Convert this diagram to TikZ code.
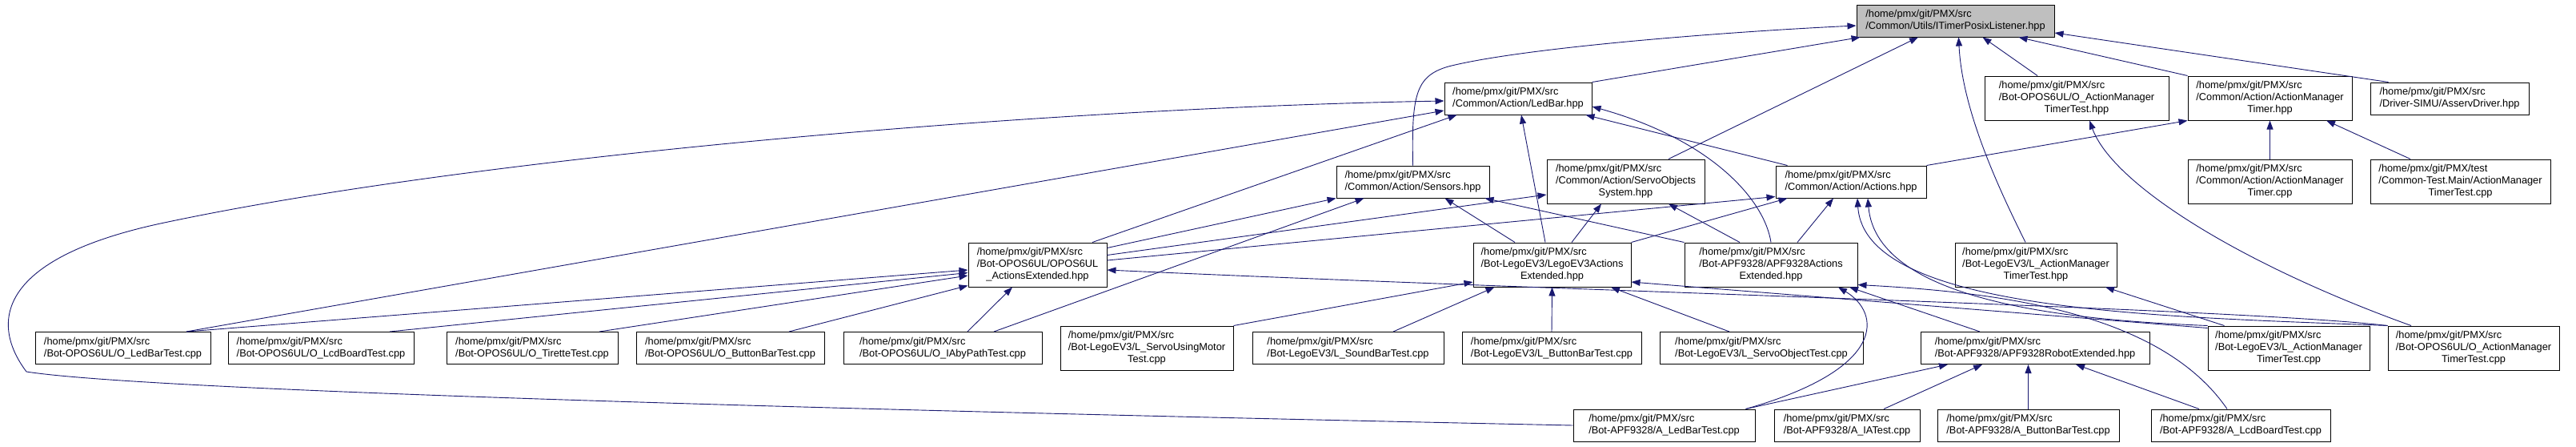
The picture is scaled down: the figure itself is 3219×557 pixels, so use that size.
\documentclass[tikz,border=0pt]{standalone}
\usepackage{fontspec}
\setmainfont{Liberation Sans}
\usetikzlibrary{arrows.meta}

\definecolor{edgeblue}{HTML}{191970}
\definecolor{rootgray}{HTML}{BFBFBF}

% two and three line file labels
\newcommand{\twoline}[2]{\begin{tabular}{@{}l@{}}#1\\#2\end{tabular}}
\newcommand{\threeline}[3]{\begin{tabular}{@{}l@{}}#1\\#2\\\multicolumn{1}{@{}c@{}}{#3}\end{tabular}}
\newcommand{\src}{/home/pmx/git/PMX/src}

\begin{document}
\begin{tikzpicture}[
            x=1pt, y=-1pt,
            filebox/.style={
                draw=black,
                line width=1pt,
                fill=white,
                inner sep=0pt,
                minimum height=40,
                font=\fontsize{12.8}{15}\selectfont
            },
            tallbox/.style={
                minimum height=55
            },
            dep/.style={
                draw=edgeblue,
                line width=0.9pt,
                -{Triangle[length=11pt,width=8pt]}
            }
        ]

            \useasboundingbox (0,0) rectangle (3219,557);

            % --- Row 0: the included header ---
            \node[filebox, fill=rootgray, minimum width=247] (root) at (2443.5,26) {\twoline{\src}{/Common/Utils/ITimerPosixListener.hpp}};

            % --- Row 1 ---
            \node[filebox, minimum width=184] (ledbar) at (1897,123) {\twoline{\src}{/Common/Action/LedBar.hpp}};
            \node[filebox, tallbox, minimum width=230] (oamtthpp) at (2595,122.5) {\threeline{\src}{/Bot-OPOS6UL/O\_ActionManager}{TimerTest.hpp}};
            \node[filebox, tallbox, minimum width=205] (amthpp) at (2836.5,122.5) {\threeline{\src}{/Common/Action/ActionManager}{Timer.hpp}};
            \node[filebox, minimum width=198] (asserv) at (3061,123) {\twoline{\src}{/Driver-SIMU/AsservDriver.hpp}};

            % --- Row 2 ---
            \node[filebox, minimum width=191] (sensors) at (1765.5,227) {\twoline{\src}{/Common/Action/Sensors.hpp}};
            \node[filebox, tallbox, minimum width=197] (servoobj) at (2031.5,226.5) {\threeline{\src}{/Common/Action/ServoObjects}{System.hpp}};
            \node[filebox, minimum width=188] (actions) at (2313,227) {\twoline{\src}{/Common/Action/Actions.hpp}};
            \node[filebox, tallbox, minimum width=205] (amtcpp) at (2836.5,226.5) {\threeline{\src}{/Common/Action/ActionManager}{Timer.cpp}};
            \node[filebox, tallbox, minimum width=225] (amttest) at (3074.5,226.5) {\threeline{/home/pmx/git/PMX/test}{/Common-Test.Main/ActionManager}{TimerTest.cpp}};

            % --- Row 3 ---
            \node[filebox, tallbox, minimum width=173] (oposae) at (1296.5,330.5) {\threeline{\src}{/Bot-OPOS6UL/OPOS6UL}{\_ActionsExtended.hpp}};
            \node[filebox, tallbox, minimum width=197] (legoae) at (1939.5,330.5) {\threeline{\src}{/Bot-LegoEV3/LegoEV3Actions}{Extended.hpp}};
            \node[filebox, tallbox, minimum width=216] (apfae) at (2213,330.5) {\threeline{\src}{/Bot-APF9328/APF9328Actions}{Extended.hpp}};
            \node[filebox, tallbox, minimum width=202] (lamtthpp) at (2544,330.5) {\threeline{\src}{/Bot-LegoEV3/L\_ActionManager}{TimerTest.hpp}};

            % --- Row 4 ---
            \node[filebox, minimum width=219] (oledbar) at (153.5,434.5) {\twoline{\src}{/Bot-OPOS6UL/O\_LedBarTest.cpp}};
            \node[filebox, minimum width=232] (olcd) at (401,434.5) {\twoline{\src}{/Bot-OPOS6UL/O\_LcdBoardTest.cpp}};
            \node[filebox, minimum width=214] (otirette) at (665,434.5) {\twoline{\src}{/Bot-OPOS6UL/O\_TiretteTest.cpp}};
            \node[filebox, minimum width=235] (obutton) at (912.5,434.5) {\twoline{\src}{/Bot-OPOS6UL/O\_ButtonBarTest.cpp}};
            \node[filebox, minimum width=248] (oiaby) at (1178,434.5) {\twoline{\src}{/Bot-OPOS6UL/O\_IAbyPathTest.cpp}};
            \node[filebox, tallbox, minimum width=216] (lservomotor) at (1433,434.5) {\threeline{\src}{/Bot-LegoEV3/L\_ServoUsingMotor}{Test.cpp}};
            \node[filebox, minimum width=239] (lsound) at (1684.5,434.5) {\twoline{\src}{/Bot-LegoEV3/L\_SoundBarTest.cpp}};
            \node[filebox, minimum width=224] (lbutton) at (1939,434.5) {\twoline{\src}{/Bot-LegoEV3/L\_ButtonBarTest.cpp}};
            \node[filebox, minimum width=254] (lservoobj) at (2201,434.5) {\twoline{\src}{/Bot-LegoEV3/L\_ServoObjectTest.cpp}};
            \node[filebox, minimum width=286] (apfrobot) at (2543,434.5) {\twoline{\src}{/Bot-APF9328/APF9328RobotExtended.hpp}};
            \node[filebox, tallbox, minimum width=202] (lamttcpp) at (2860,434.5) {\threeline{\src}{/Bot-LegoEV3/L\_ActionManager}{TimerTest.cpp}};
            \node[filebox, tallbox, minimum width=214] (oamttcpp) at (3091,434.5) {\threeline{\src}{/Bot-OPOS6UL/O\_ActionManager}{TimerTest.cpp}};

            % --- Row 5 ---
            \node[filebox, minimum width=227] (aledbar) at (2079.5,531) {\twoline{\src}{/Bot-APF9328/A\_LedBarTest.cpp}};
            \node[filebox, minimum width=182] (aia) at (2308,531) {\twoline{\src}{/Bot-APF9328/A\_IATest.cpp}};
            \node[filebox, minimum width=227] (abutton) at (2534.5,531) {\twoline{\src}{/Bot-APF9328/A\_ButtonBarTest.cpp}};
            \node[filebox, minimum width=224] (alcd) at (2800,531) {\twoline{\src}{/Bot-APF9328/A\_LcdBoardTest.cpp}};

            % --- includers of ITimerPosixListener.hpp ---
            \draw[dep] (ledbar.north east) -- ([xshift=5]root.south west);
            \draw[dep] (sensors.north) .. controls (1764,120) and (1768,95) .. (1810,83) .. controls (1900,60) and (2150,40) .. ([yshift=-6]root.west);
            \draw[dep] ([xshift=53.5]servoobj.north) -- ([xshift=-46.5]root.south);
            \draw[dep] ([xshift=-13]lamtthpp.north) .. controls (2500,240) and (2452,140) .. ([xshift=4]root.south);
            \draw[dep] ([xshift=-49]oamtthpp.north) -- ([xshift=34]root.south);
            \draw[dep] (amthpp.north west) -- ([xshift=79]root.south);
            \draw[dep] ([xshift=23]asserv.north west) -- ([yshift=-15]root.east);

            % --- includers of LedBar.hpp ---
            \draw[dep] (aledbar.west) .. controls (1200,515) and (200,490) .. (33,464) .. controls (-15,400) and (0,320) .. (210,277) .. controls (600,195) and (1300,135) .. ([yshift=-3]ledbar.west);
            \draw[dep] ([xshift=79.5]oledbar.north) -- ([yshift=-15]ledbar.west);
            \draw[dep] ([xshift=68.5]oposae.north) -- ([xshift=16]ledbar.south west);
            \draw[dep] ([xshift=-8.5]legoae.north) -- ([xshift=4]ledbar.south);
            \draw[dep] ([xshift=15]actions.north west) -- ([xshift=-8]ledbar.south east);
            \draw[dep] (apfae.north) .. controls (2205,250) and (2140,175) .. ([yshift=-10]ledbar.east);

            % --- includers of Sensors.hpp ---
            \draw[dep] ([yshift=-7]oposae.north east) -- (sensors.south west);
            \draw[dep] ([xshift=64]oiaby.north) -- ([xshift=35]sensors.south west);
            \draw[dep] ([xshift=-46.5]legoae.north) -- ([xshift=40]sensors.south);
            \draw[dep] (apfae.north west) -- ([xshift=-6]sensors.south east);

            % --- includers of ServoObjectsSystem.hpp ---
            \draw[dep] ([yshift=-16]oposae.north east) -- ([yshift=-16.5]servoobj.west);
            \draw[dep] ([xshift=24.5]legoae.north) -- ([xshift=-30.5]servoobj.south);
            \draw[dep] ([xshift=-39]apfae.north) -- ([xshift=53.5]servoobj.south);

            % --- includers of Actions.hpp ---
            \draw[dep] ([yshift=5.5]oposae.east) -- ([yshift=2]actions.south west);
            \draw[dep] (legoae.north east) -- ([xshift=15]actions.south west);
            \draw[dep] ([xshift=33]apfae.north) -- ([xshift=-22]actions.south);
            \draw[dep] (lamttcpp.north west) .. controls (2600,400) and (2345,380) .. ([xshift=21]actions.south);
            \draw[dep] (oamttcpp.north west) .. controls (2700,395) and (2330,390) .. ([xshift=8]actions.south);

            % --- includers of LegoEV3ActionsExtended.hpp ---
            \draw[dep] (lservomotor.north east) -- ([yshift=-21.5]legoae.west);
            \draw[dep] ([xshift=56.5]lsound.north) -- ([xshift=27]legoae.south west);
            \draw[dep] (lbutton.north) -- (legoae.south);
            \draw[dep] ([xshift=-40]lservoobj.north) -- ([xshift=73.5]legoae.south);
            \draw[dep] ([yshift=-3]lamttcpp.north west) -- ([yshift=-21.5]legoae.east);

            % --- includers of OPOS6UL_ActionsExtended.hpp ---
            \draw[dep] ([xshift=79.5]oledbar.north) -- ([yshift=-6.5]oposae.west);
            \draw[dep] ([xshift=86]olcd.north) -- ([yshift=-10]oposae.west);
            \draw[dep] ([xshift=84]otirette.north) -- ([yshift=-13.5]oposae.west);
            \draw[dep] ([xshift=73.5]obutton.north) -- ([yshift=2]oposae.south west);
            \draw[dep] ([xshift=31]oiaby.north) -- ([xshift=-31.5]oposae.south);
            \draw[dep] (oamttcpp.north west) .. controls (2800,385) and (2000,365) .. ([yshift=-6.5]oposae.east);

            % --- includers of APF9328ActionsExtended.hpp ---
            \draw[dep] ([xshift=-12]aledbar.north east) .. controls (2360,460) and (2350,390) .. ([xshift=84]apfae.south);
            \draw[dep] ([xshift=-69]apfrobot.north) -- ([xshift=98]apfae.south);
            \draw[dep] ([xshift=-17]alcd.north) .. controls (2700,390) and (2500,365) .. ([yshift=3]apfae.south east);

            % --- includers of APF9328RobotExtended.hpp ---
            \draw[dep] ([xshift=-12]aledbar.north east) -- ([xshift=-109]apfrobot.south);
            \draw[dep] ([xshift=46]aia.north) -- ([xshift=-66]apfrobot.south);
            \draw[dep] (abutton.north) -- (abutton.north |- apfrobot.south);
            \draw[dep] ([xshift=-52]alcd.north) -- ([xshift=51]apfrobot.south);

            % --- timer headers ---
            \draw[dep] (actions.north east) -- (amthpp.south west);
            \draw[dep] (amtcpp.north) -- (amthpp.south);
            \draw[dep] ([xshift=-62.5]amttest.north) -- ([xshift=70.5]amthpp.south);
            \draw[dep] ([xshift=-78]oamttcpp.north) .. controls (2800,330) and (2640,230) .. ([xshift=16]oamtthpp.south);
            \draw[dep] ([xshift=21]lamttcpp.north west) -- ([xshift=87]lamtthpp.south);

        \end{tikzpicture}
\end{document}
